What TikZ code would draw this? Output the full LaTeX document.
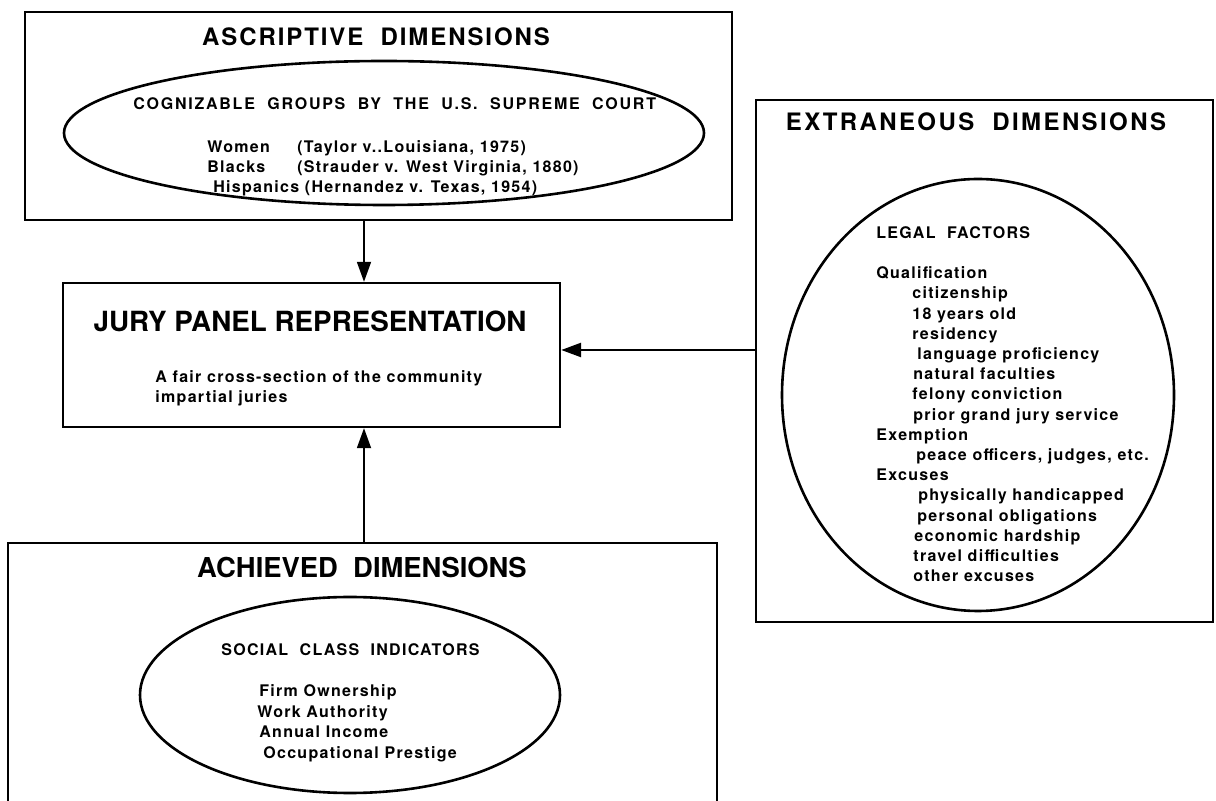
\documentclass[tikz,border=0pt]{standalone}
\usepackage{fontspec}
\setmainfont{TeX Gyre Heros}
\usetikzlibrary{arrows.meta,shapes.geometric}
\tikzset{
        >={Triangle[length=10pt,width=7pt]},
        box/.style = {draw, line width=1.2pt, inner sep=0pt},
        oval/.style = {draw, ellipse, line width=1.3pt, inner sep=0pt},
        heading/.style = {anchor=base, inner sep=0pt, font=\fontsize{12}{14}\selectfont\bfseries\addfontfeature{LetterSpace=8}},
        bigheading/.style = {anchor=base, inner sep=0pt, font=\fontsize{13.9}{16}\selectfont\bfseries},
        listing/.style = {anchor=north west, inner sep=0pt, align=left, font=\fontsize{8}{10.1}\selectfont\bfseries\addfontfeature{LetterSpace=8}},
        link/.style = {->, line width=0.9pt}
}

\begin{document}
\begin{tikzpicture}[x=0.5pt, y=-0.5pt]

        \useasboundingbox (0,0) rectangle (1216,801);
        \clip (0,0) rectangle (1216,801);

        % Boxes
        \node[box, minimum width=353.5pt, minimum height=104pt] (asc) at (378.5,116) {};
        \node[box, minimum width=248.5pt, minimum height=72pt] (jury) at (311.5,355) {};
        \node[box, minimum width=228.5pt, minimum height=261pt] (ext) at (984.5,361) {};
        \node[box, minimum width=354.5pt, minimum height=170pt] (ach) at (362.5,713) {};

        % Ellipses
        \node[oval, minimum width=320pt, minimum height=72pt] (ascoval) at (384,133) {};
        \node[oval, minimum width=210pt, minimum height=98pt] (achoval) at (350,695) {};
        \node[oval, minimum width=196pt, minimum height=216pt] (extoval) at (978,395) {};

        % Headings
        \node[heading] (asctitle) at (376,45.5) {ASCRIPTIVE~ DIMENSIONS};
        \node[heading, font=\fontsize{12}{14}\selectfont\bfseries\addfontfeature{LetterSpace=10}] (exttitle) at (976,130.5) {EXTRANEOUS~ DIMENSIONS};
        \node[bigheading] (jurytitle) at (310,332) {JURY PANEL REPRESENTATION};
        \node[bigheading, font=\fontsize{13.7}{16}\selectfont\bfseries] (achtitle) at (362,578) {ACHIEVED~ DIMENSIONS};

        % Texts
        \node[listing] (asctext) at (133,97) {{\addfontfeature{LetterSpace=11}COGNIZABLE~ GROUPS~ BY~ THE~ U.S.~ SUPREME~ COURT}\\[11.5pt]
                \hspace*{37pt}\makebox[45pt][l]{Women}(Taylor v..Louisiana, 1975)\\
                \hspace*{37pt}\makebox[45pt][l]{Blacks}(Strauder v. West Virginia, 1880)\\
                \hspace*{40pt}Hispanics (Hernandez v. Texas, 1954)};
        \node[listing, font=\fontsize{8}{10}\selectfont\bfseries\addfontfeature{LetterSpace=8}] (jurytext) at (155,370) {A fair cross-section of the community\\impartial juries};
        \node[listing, font=\fontsize{8}{10.3}\selectfont\bfseries\addfontfeature{LetterSpace=8}] (achtext) at (221,643) {SOCIAL~ CLASS~ INDICATORS\\[10.3pt]
                \hspace*{19pt}Firm Ownership\\
                \hspace*{18pt}Work Authority\\
                \hspace*{19pt}Annual Income\\
                \hspace*{21pt}Occupational Prestige};
        \node[listing] (exttext) at (876,226) {LEGAL~ FACTORS\\[10.1pt]
                Qualification\\
                \hspace*{18pt}citizenship\\
                \hspace*{18pt}18 years old\\
                \hspace*{18pt}residency\\
                \hspace*{20.5pt}language proficiency\\
                \hspace*{18.5pt}natural faculties\\
                \hspace*{18pt}felony conviction\\
                \hspace*{18.5pt}prior grand jury service\\
                Exemption\\
                \hspace*{20pt}peace officers, judges, etc.\\
                Excuses\\
                \hspace*{21pt}physically handicapped\\
                \hspace*{20.5pt}personal obligations\\
                \hspace*{19pt}economic hardship\\
                \hspace*{18.5pt}travel difficulties\\
                \hspace*{18.5pt}other excuses};

        % Arrows
        \coordinate (ax) at (364,0);
        \coordinate (ay) at (0,350);
        \draw[link] (asc.south -| ax) -- (jury.north -| ax);
        \draw[link] (ach.north -| ax) -- (jury.south -| ax);
        \draw[link, line width=1.3pt] (ext.west |- ay) -- (jury.east |- ay);

\end{tikzpicture}
\end{document}
